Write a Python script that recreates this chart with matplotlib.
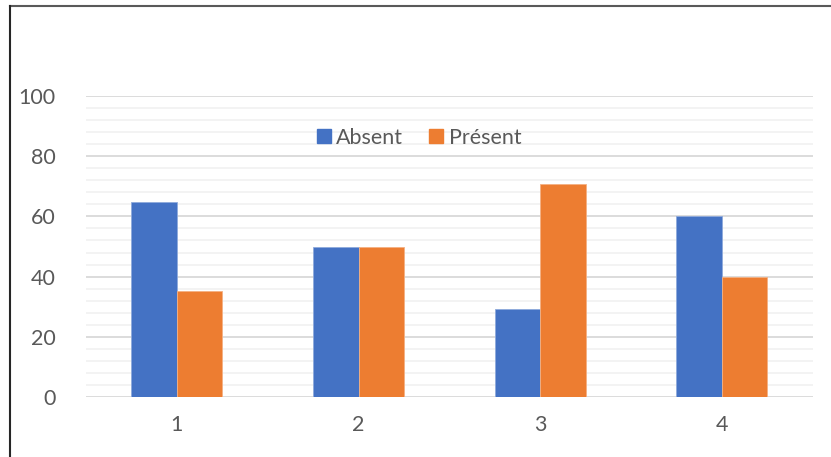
import numpy as np
import matplotlib.pyplot as plt
from matplotlib.lines import Line2D

categories = ["1", "2", "3", "4"]
absent = [64.6, 50, 29.4, 60]
present = [35.4, 50, 70.6, 40]

blue = "#4472C4"
orange = "#ED7D31"
textColor = "#595959"

plt.rcParams["font.family"] = ["Lato", "DejaVu Sans"]

W, H = 831, 457
fig = plt.figure(figsize=(W / 100, H / 100), dpi=100)
ax = fig.add_axes([86 / W, (H - 397.3) / H, (812.7 - 86) / W, (397.3 - 95.7) / H])

x = np.arange(len(categories))
width = 0.25
ax.bar(x - width / 2, absent, width, color=blue, edgecolor="#8FAADC", linewidth=0.6,
       label="Absent", zorder=3)
ax.bar(x + width / 2, present, width, color=orange, edgecolor="#F4B183", linewidth=0.6,
       label="Présent", zorder=3)

ax.set_xlim(-0.5, len(categories) - 0.5)
ax.set_ylim(0, 100)
ax.set_xticks(x)
ax.set_xticklabels(categories)
ax.set_yticks(np.arange(0, 101, 20))
ax.set_yticks(np.arange(0, 101, 4), minor=True)

ax.grid(axis="y", which="minor", color="#F2F2F2", linewidth=1.3, zorder=0)
ax.grid(axis="y", which="major", color="#D9D9D9", linewidth=1.3, zorder=1)
ax.tick_params(axis="both", which="both", length=0, labelsize=15.5, labelcolor=textColor)
ax.tick_params(axis="y", pad=22)
ax.tick_params(axis="x", pad=13)
for side in ["top", "right", "left", "bottom"]:
    ax.spines[side].set_visible(False)

handles = [
    Line2D([], [], marker="s", linestyle="", markersize=10, color=blue),
    Line2D([], [], marker="s", linestyle="", markersize=10, color=orange),
]
fig.legend(handles, ["Absent", "Présent"], loc="center", ncol=2,
           bbox_to_anchor=(417 / W, 1 - 138 / H), frameon=False, fontsize=15.5,
           labelcolor=textColor, handletextpad=0.1, columnspacing=1.0,
           handlelength=1.0)

# outer frame: top and left edges
fig.add_artist(Line2D([10 / W, 1], [1 - 5.5 / H, 1 - 5.5 / H], color="#595959", linewidth=1.5))
fig.add_artist(Line2D([10 / W, 10 / W], [0, 1 - 5.5 / H], color="#262626", linewidth=1.5))

fig.savefig("out.png", dpi=100)
